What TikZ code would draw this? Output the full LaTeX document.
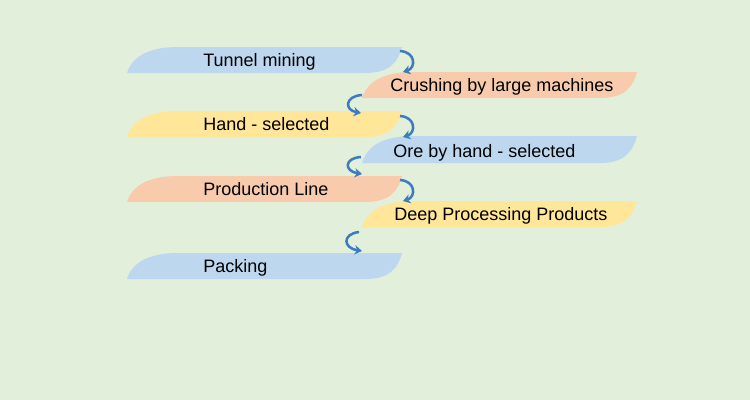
\documentclass[tikz,border=0pt]{standalone}
\usepackage{fontspec}
\setmainfont{Liberation Sans}
\usetikzlibrary{arrows.meta}
\definecolor{bgc}{HTML}{E2EFDA}
\definecolor{cblue}{HTML}{BDD7EE}
\definecolor{csalmon}{HTML}{F8CBAD}
\definecolor{cyellow}{HTML}{FFE699}
\definecolor{carrow}{HTML}{3D7DBF}
% left bar: #1 colour, #2 top y, #3 bottom y
\newcommand\lbarshape[3]{%
  \fill[#1] (127,#3) .. controls (132,#2+10) and (148,#2) .. (178,#2) -- (402,#2)
     .. controls (398,#2+15) and (390,#3) .. (365,#3) -- cycle;}
\newcommand\rbarshape[3]{%
  \fill[#1] (362,#3) .. controls (367,#2+10) and (383,#2) .. (413,#2) -- (637,#2)
     .. controls (633,#2+15) and (625,#3) .. (600,#3) -- cycle;}
\begin{document}
\begin{tikzpicture}[x=0.75pt,y=-0.75pt,
  lbl/.style={anchor=base west,inner sep=0pt,font=\fontsize{13.5}{16}\selectfont,text=black},
  arr/.style={draw=carrow,line width=1.9pt,-{Stealth[length=5.5pt,width=7pt]}}]
\fill[bgc] (0,0) rectangle (750,400);
\useasboundingbox (0,0) rectangle (750,400);
% bars
\lbarshape{cblue}{47}{73}
\rbarshape{csalmon}{72}{98}
\lbarshape{cyellow}{111}{137}
\rbarshape{cblue}{136}{163}
\lbarshape{csalmon}{176}{202}
\rbarshape{cyellow}{201}{227}
\lbarshape{cblue}{253}{279}
% labels
\node[lbl] (t1) at (203,66.5) {Tunnel mining};
\node[lbl] (t2) at (390,91.5) {Crushing by large machines};
\node[lbl] (t3) at (203,130.5) {Hand - selected};
\node[lbl] (t4) at (393,157) {Ore by hand - selected};
\node[lbl] (t5) at (203,195.5) {Production Line};
\node[lbl] (t6) at (394,220.5) {Deep Processing Products};
\node[lbl] (t7) at (203,272) {Packing};
% connector end points
\coordinate (a1s) at (400,51);  \coordinate (a1e) at (403,72);
\coordinate (a2s) at (362,95);  \coordinate (a2e) at (361,113);
\coordinate (a3s) at (400,116); \coordinate (a3e) at (403,137);
\coordinate (a4s) at (361,157); \coordinate (a4e) at (362,174);
\coordinate (a5s) at (400,180); \coordinate (a5e) at (403,201);
\coordinate (a6s) at (359,232); \coordinate (a6e) at (362,251);
\draw[arr] (a1s) .. controls (416,52) and (416,68) .. (a1e);
\draw[arr] (a2s) .. controls (345,96) and (344,110) .. (a2e);
\draw[arr] (a3s) .. controls (416,117) and (416,133) .. (a3e);
\draw[arr] (a4s) .. controls (344,158) and (344,171) .. (a4e);
\draw[arr] (a5s) .. controls (416,181) and (416,197) .. (a5e);
\draw[arr] (a6s) .. controls (342,234) and (343,248) .. (a6e);
\end{tikzpicture}
\end{document}
